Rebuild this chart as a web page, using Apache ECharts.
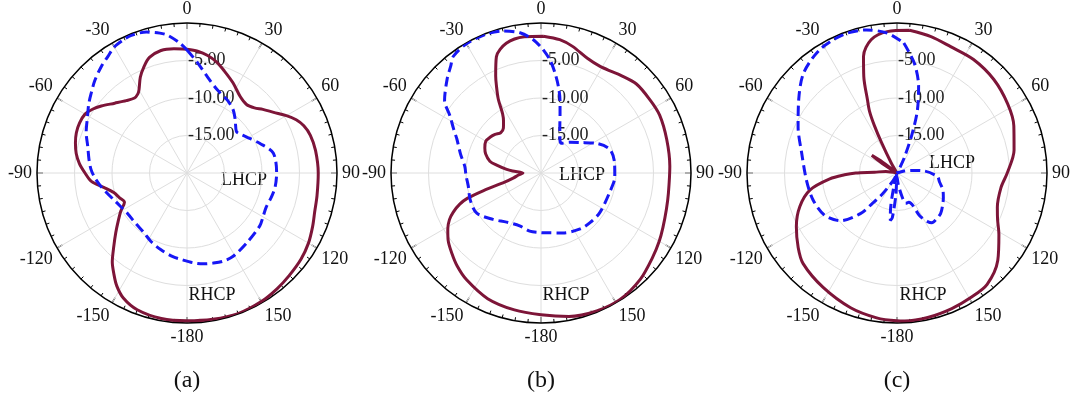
<!DOCTYPE html>
<html><head><meta charset="utf-8">
<script src="https://cdn.jsdelivr.net/npm/echarts@6/dist/echarts.min.js"></script>
<style>html,body{margin:0;padding:0;background:#fff}#c{width:1072px;height:401px}</style>
</head><body><div id="c"></div>
<script>
// Angle convention: degrees, 0 at top, positive clockwise; radial values in dB
const panelNames = ['(a)', '(b)', '(c)'];
const radialTicks = [-20, -15, -10, -5, 0];

// (a)
const angA_R = [-180,-170,-160,-153,-148,-144,-140,-135,-130,-125,-120,-115,-110,-105,-100,-95,-90,-85,-80,-75,-70,-65,-60,-56,-52,-46,-40,-35,-32,-30,-26,-22,-18,-12,-6,0,5,10,15,20,27,35,41,46,50,55,60,64,68,73,80,90,100,107,113,120,127,135,142,150,160,170];
const dbA_R  = [-0.3,-0.3,-0.6,-1.3,-2.3,-3.4,-4.5,-6.2,-7.6,-8.8,-9.8,-10.8,-10.4,-9.9,-8.8,-7.2,-6.4,-5.6,-5.0,-4.6,-4.3,-4.2,-4.3,-4.8,-5.5,-6.6,-7.4,-7.8,-7.6,-7.2,-5.8,-4.7,-3.8,-3.3,-3.35,-3.5,-3.7,-4.1,-4.7,-5.5,-6.5,-7.6,-7.9,-7.5,-6.8,-5.9,-4.7,-3.8,-3.2,-2.8,-2.6,-2.5,-2.4,-2.2,-1.8,-1.3,-0.95,-0.7,-0.45,-0.2,-0.05,-0.2];
const angA_L = [-180,-176,-170,-161,-152,-144,-135,-124,-117,-110,-104,-99,-93,-88,-82,-75,-68,-60,-55,-50,-45,-39,-34,-30,-26,-22,-16,-11,-8,-3,0,5,12,20,29,36,42,50,54,59,68,77,90,99,106,113,120,126,139,151,158,164,170,176];
const dbA_L  = [-8.25,-8.45,-8.7,-9.2,-9.7,-10.2,-10.4,-10.4,-10.1,-9.6,-9.0,-8.4,-7.7,-7.2,-6.8,-6.3,-5.5,-4.7,-4.0,-3.35,-2.6,-1.8,-1.2,-0.6,-0.35,-0.2,-0.45,-1.0,-1.45,-2.7,-3.6,-5.1,-6.9,-8.2,-8.9,-9.55,-10.4,-11.4,-11.2,-10.7,-9.5,-8.2,-8.05,-8.1,-8.3,-8.5,-8.3,-8.0,-7.75,-7.3,-7.3,-7.5,-7.7,-8.0];

// (b)
const angB_R = [-180,-169,-157,-145,-138,-132,-126,-121,-117,-114,-111,-109,-107,-104,-100,-95,-90,-86,-84,-80,-77,-71,-66,-60,-55,-50,-45,-40,-36,-33,-30,-27,-25,-21,-15,-7,1,8,14,22,29,35,39,47,56,64,75,87,99,106,114,120,127,137,148,158,169];
const dbB_R  = [-1.1,-1.4,-1.8,-2.65,-3.3,-4.0,-4.7,-5.5,-6.3,-7.2,-8.4,-9.6,-12.0,-15.0,-16.3,-17.0,-17.6,-16.2,-15.4,-14.0,-13.0,-12.2,-11.8,-11.5,-11.7,-12.0,-12.4,-12.2,-11.5,-10.6,-8.6,-6.9,-5.7,-3.4,-2.1,-1.7,-1.75,-2.05,-2.6,-3.5,-3.75,-3.5,-3.2,-2.6,-2.5,-2.4,-2.65,-2.8,-2.8,-2.6,-2.2,-1.8,-1.35,-0.6,-0.1,-0.15,-0.5];
const angB_L = [-180,-169,-158,-145,-134,-122,-111,-100,-92,-85,-77,-68,-63,-58,-53,-45,-40,-37,-30,-21,-15,-8.5,-3.3,1,4.5,8,11.3,14.5,17.6,22,29.7,34.6,43,52,62,71,82,93,106,124,135,145,160,175];
const dbB_L  = [-12.05,-12.1,-12.4,-12.0,-11.1,-9.9,-9.9,-10.15,-10.0,-9.8,-9.0,-7.9,-6.9,-5.7,-3.9,-2.3,-1.3,-0.55,-0.1,-0.1,-0.4,-1.1,-2.2,-3.55,-4.85,-6.55,-8.2,-9.9,-11.6,-13.3,-14.9,-15.2,-14.4,-13.4,-11.6,-10.3,-10.1,-10.15,-10.5,-10.55,-10.7,-10.9,-11.5,-12.0];

// (c)
const angC_R = [-180,-172,-161,-147,-134,-127,-118,-109,-101,-95,-92,-90,-88,-82,-72,-60,-57,-55,-53,-50,-42,-36,-30,-27,-25.5,-24,-22,-19,-16,-11,-4,5,14,23,34,46,58,68,79,90,98,109,115,121,131,141,149,158,168,177];
const dbC_R  = [-0.3,-0.5,-1.0,-1.85,-2.6,-3.5,-4.8,-6.3,-8.2,-11.0,-13.0,-14.5,-17.0,-18.5,-20,-20,-17.6,-15.9,-17.6,-20,-20,-20,-18.5,-15.5,-13.0,-11.0,-9.5,-6.4,-3.8,-1.9,-1.1,-0.9,-1.25,-1.7,-1.75,-2.05,-2.6,-3.2,-4.1,-5.3,-6.0,-5.85,-5.2,-4.15,-2.2,-0.9,-0.7,-0.5,-0.3,-0.25];
const angC_L = [-180,-177,-174,-172,-170,-167,-162,-155,-150,-145,-141,-138,-130,-120,-108,-95,-78,-65,-53,-43,-32,-21,-12,-4,3,9,14,18,21,25,30,40,60,75,80,86,95,102,110,118,126,133,140,145,148,152,158,164,168,174];
const dbC_L  = [-19.5,-17,-14,-13.6,-15,-18,-20,-19.2,-18.3,-16.5,-14.8,-12.7,-10.1,-8.8,-8.25,-7.9,-7.0,-5.45,-3.6,-1.75,-0.6,-0.2,-0.5,-1.3,-2.65,-5.2,-8.1,-11.2,-14.3,-17.5,-19.5,-20,-20,-19,-18,-16.3,-14.6,-14.2,-13.5,-13.0,-12.5,-12.05,-11.9,-11.9,-12.4,-13.5,-15.8,-15.8,-16.8,-18.5];

const panels = [
  {cx: 187, R: [angA_R, dbA_R], L: [angA_L, dbA_L], lh: [244, 180], rh: [212, 295]},
  {cx: 541, R: [angB_R, dbB_R], L: [angB_L, dbB_L], lh: [582, 175], rh: [566, 295]},
  {cx: 897, R: [angC_R, dbC_R], L: [angC_L, dbC_L], lh: [952, 163], rh: [923, 295]}
];
const CY = 173, RAD = 150;
const FONT = '"Liberation Serif", "DejaVu Serif", serif';
const MAROON = '#7d1538', BLUE = '#1717f5';

function build(ang, db) {
  const pts = [];
  ang.forEach((a, k) => { if (a !== 180) pts.push([db[k], a < 0 ? a + 360 : a]); });
  pts.sort((p, q) => p[1] - q[1]);
  pts.push([pts[0][0], pts[0][1] + 360]);
  return pts;
}
function angFmt(v) {
  if (v === 360) return '';
  if (v === 180) return '-180';
  return String(v > 180 ? v - 360 : v);
}

const polar = [], angleAxis = [], radiusAxis = [], series = [], graphic = [];
panels.forEach((p, i) => {
  polar.push({center: [p.cx, CY], radius: RAD});
  angleAxis.push({
    polarIndex: i, type: 'value', min: 0, max: 360, interval: 30, startAngle: 90, clockwise: true,
    axisLine: {lineStyle: {color: '#000', width: 1.5}},
    axisTick: {show: true, inside: true, length: 6, lineStyle: {color: '#000', width: 1.2}},
    minorTick: {show: true, splitNumber: 6, length: 3.5, lineStyle: {color: '#000', width: 1}},
    splitLine: {show: true, lineStyle: {color: '#dedede', width: 1}},
    axisLabel: {formatter: angFmt, fontFamily: FONT, fontSize: 18, color: '#111', margin: 5}
  });
  radiusAxis.push({
    polarIndex: i, type: 'value', min: radialTicks[0], max: radialTicks[radialTicks.length - 1], interval: 5,
    axisLine: {show: false}, axisTick: {show: false},
    splitLine: {show: true, lineStyle: {color: '#dedede', width: 1}},
    axisLabel: {formatter: v => (v === -20 || v === 0) ? '' : v.toFixed(2), fontFamily: FONT, fontSize: 18, color: '#222', align: 'left', margin: -1}
  });
  series.push({
    type: 'line', coordinateSystem: 'polar', polarIndex: i, name: 'RHCP', data: build(p.R[0], p.R[1]),
    showSymbol: false, smooth: 0.3, lineStyle: {color: MAROON, width: 3}, z: 3
  });
  series.push({
    type: 'line', coordinateSystem: 'polar', polarIndex: i, name: 'LHCP', data: build(p.L[0], p.L[1]),
    showSymbol: false, smooth: 0.3, lineStyle: {color: BLUE, width: 3, type: [10, 5]}, z: 4
  });
  graphic.push({type: 'text', x: p.lh[0], y: p.lh[1], style: {text: 'LHCP', font: '18px ' + FONT, fill: '#111', align: 'center', verticalAlign: 'middle'}});
  graphic.push({type: 'text', x: p.rh[0], y: p.rh[1], style: {text: 'RHCP', font: '18px ' + FONT, fill: '#111', align: 'center', verticalAlign: 'middle'}});
  graphic.push({type: 'text', x: p.cx, y: 381, style: {text: panelNames[i], font: '24px ' + FONT, fill: '#111', align: 'center', verticalAlign: 'middle'}});
});

const chart = echarts.init(document.getElementById('c'), null, {renderer: 'canvas'});
chart.setOption({animation: false, backgroundColor: '#fff', polar, angleAxis, radiusAxis, series, graphic});
</script></body></html>
